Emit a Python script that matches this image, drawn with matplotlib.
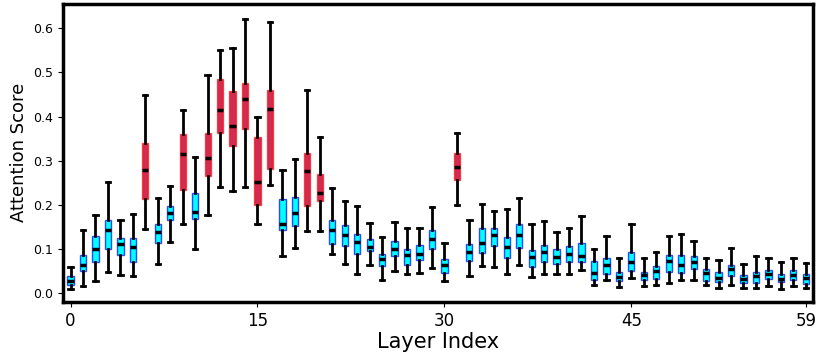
import matplotlib
matplotlib.use("Agg")
import matplotlib.pyplot as plt

# per-layer box stats (whisker low, q1, median, q3, whisker high)
layers = list(range(60))
whislo = [0.011, 0.017, 0.029, 0.049, 0.041, 0.040, 0.145, 0.067, 0.117, 0.157,
          0.100, 0.177, 0.240, 0.231, 0.241, 0.157, 0.246, 0.085, 0.103, 0.141,
          0.142, 0.089, 0.066, 0.044, 0.065, 0.030, 0.051, 0.043, 0.046, 0.057,
          0.029, 0.201, 0.040, 0.061, 0.059, 0.045, 0.064, 0.038, 0.045, 0.044,
          0.043, 0.052, 0.019, 0.030, 0.014, 0.034, 0.017, 0.020, 0.024, 0.031,
          0.031, 0.019, 0.013, 0.019, 0.013, 0.013, 0.016, 0.011, 0.016, 0.013]
q1 = [0.020, 0.051, 0.072, 0.101, 0.088, 0.072, 0.214, 0.115, 0.166, 0.235,
      0.169, 0.266, 0.362, 0.333, 0.372, 0.199, 0.282, 0.143, 0.153, 0.198,
      0.208, 0.112, 0.107, 0.089, 0.095, 0.061, 0.085, 0.064, 0.075, 0.101,
      0.046, 0.256, 0.073, 0.092, 0.107, 0.079, 0.102, 0.060, 0.070, 0.066,
      0.072, 0.070, 0.031, 0.045, 0.028, 0.050, 0.030, 0.032, 0.049, 0.046,
      0.055, 0.028, 0.025, 0.039, 0.023, 0.024, 0.032, 0.025, 0.030, 0.022]
med = [0.027, 0.064, 0.100, 0.144, 0.112, 0.106, 0.280, 0.138, 0.182, 0.316,
       0.185, 0.306, 0.415, 0.378, 0.439, 0.252, 0.418, 0.158, 0.181, 0.276,
       0.228, 0.143, 0.133, 0.117, 0.106, 0.077, 0.101, 0.086, 0.090, 0.123,
       0.064, 0.286, 0.094, 0.113, 0.133, 0.106, 0.132, 0.082, 0.093, 0.083,
       0.090, 0.085, 0.047, 0.064, 0.037, 0.072, 0.041, 0.051, 0.073, 0.064,
       0.070, 0.046, 0.036, 0.056, 0.032, 0.039, 0.043, 0.033, 0.041, 0.034]
q3 = [0.040, 0.088, 0.129, 0.166, 0.125, 0.125, 0.341, 0.158, 0.198, 0.360,
      0.228, 0.362, 0.485, 0.459, 0.476, 0.354, 0.461, 0.213, 0.217, 0.318,
      0.270, 0.166, 0.154, 0.134, 0.124, 0.089, 0.119, 0.101, 0.109, 0.144,
      0.077, 0.317, 0.112, 0.147, 0.149, 0.127, 0.157, 0.098, 0.109, 0.101,
      0.107, 0.114, 0.073, 0.081, 0.049, 0.094, 0.049, 0.061, 0.086, 0.087,
      0.084, 0.055, 0.049, 0.064, 0.041, 0.049, 0.054, 0.043, 0.052, 0.043]
whishi = [0.060, 0.143, 0.177, 0.252, 0.166, 0.180, 0.449, 0.215, 0.243, 0.415,
          0.309, 0.494, 0.550, 0.556, 0.621, 0.400, 0.615, 0.280, 0.303, 0.461,
          0.354, 0.239, 0.210, 0.198, 0.159, 0.127, 0.161, 0.148, 0.148, 0.196,
          0.113, 0.362, 0.165, 0.203, 0.187, 0.190, 0.216, 0.156, 0.163, 0.138,
          0.149, 0.175, 0.101, 0.129, 0.079, 0.157, 0.080, 0.094, 0.131, 0.135,
          0.119, 0.080, 0.076, 0.103, 0.067, 0.085, 0.080, 0.070, 0.081, 0.068]
highlight = [6, 9, 11, 12, 13, 14, 15, 16, 19, 20, 31]

stats = []
for i in layers:
    stats.append({'whislo': whislo[i], 'q1': q1[i], 'med': med[i],
                  'q3': q3[i], 'whishi': whishi[i], 'fliers': []})

fig, ax = plt.subplots(figsize=(8.19, 3.53), dpi=100)
fig.subplots_adjust(left=0.077, right=0.993, bottom=0.145, top=0.989)

bp = ax.bxp(stats, positions=layers, widths=0.5, patch_artist=True,
            showfliers=False,
            whiskerprops=dict(color='black', linewidth=2),
            capprops=dict(color='black', linewidth=2),
            medianprops=dict(color='black', linewidth=2.5),
            capwidths=0.35)

for i, box in enumerate(bp['boxes']):
    if i in highlight:
        box.set_facecolor('#D22D50')
        box.set_edgecolor((1.0, 0.0, 0.0, 0.6))
    else:
        box.set_facecolor('#00FFFF')
        box.set_edgecolor((0.0, 0.0, 1.0, 0.7))
    box.set_linewidth(1.0)
    box.set_zorder(2)
for ln in bp['medians']:
    ln.set_zorder(3)

ax.set_xlim(-0.6, 59.6)
ax.set_ylim(-0.019, 0.655)
ax.set_xticks([0, 15, 30, 45, 59])
ax.set_xticklabels(['0', '15', '30', '45', '59'], fontsize=12)
ax.set_yticks([0.0, 0.1, 0.2, 0.3, 0.4, 0.5, 0.6])
ax.set_yticklabels(['0.0', '0.1', '0.2', '0.3', '0.4', '0.5', '0.6'], fontsize=9)
ax.set_xlabel('Layer Index', fontsize=15, labelpad=2)
ax.set_ylabel('Attention Score', fontsize=13, labelpad=4)
for sp in ax.spines.values():
    sp.set_linewidth(2.5)

fig.savefig('out.png', dpi=100)
